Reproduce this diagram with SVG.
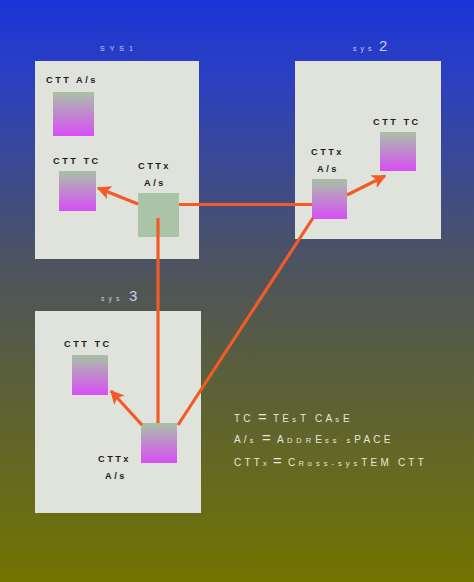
<svg xmlns="http://www.w3.org/2000/svg" width="474" height="582" viewBox="0 0 474 582">
<style>
.sys{fill:#dfe3dc;}
.lbl{font-family:"Liberation Sans",Arial,sans-serif;font-size:9.2px;font-weight:bold;fill:#1c1c1c;letter-spacing:2.5px;}
.ttl{font-family:"Liberation Sans",Arial,sans-serif;fill:#c8ccf0;}
.leg{font-family:"Liberation Sans",Arial,sans-serif;fill:#e6e8d8;letter-spacing:3px;}
.sm{font-size:7.5px;letter-spacing:4px;}
.bg{font-size:10px;letter-spacing:3.2px;}
.eq{font-size:15px;letter-spacing:0;}
.conn{stroke:#f25a28;stroke-width:3.2;fill:none;}
</style>
<defs>
<linearGradient id="bg" x1="0" y1="0" x2="0" y2="1">
<stop offset="0" stop-color="#1b34d6"/>
<stop offset="0.12" stop-color="#2a3fc4"/>
<stop offset="0.48" stop-color="#4f5558"/>
<stop offset="1" stop-color="#727400"/>
</linearGradient>
<linearGradient id="ctt" x1="0" y1="0" x2="0" y2="1">
<stop offset="0" stop-color="#a8c2a6"/>
<stop offset="1" stop-color="#d84ef6"/>
</linearGradient>
<marker id="ah" viewBox="0 0 10 10" refX="9" refY="5" markerWidth="4.4" markerHeight="4.4" orient="auto" markerUnits="strokeWidth">
<path d="M0,0 L10,5 L0,10 L2.5,5 z" fill="#f25a28"/>
</marker>
</defs>
<rect width="474" height="582" fill="url(#bg)"/>

<g id="sys1">
<rect class="sys" x="35" y="61" width="164" height="198"/>
<text class="ttl" x="100" y="51" font-size="7" letter-spacing="5">SYS1</text>
<text class="lbl" x="46" y="83">CTT A/s</text>
<rect x="53" y="92" width="41" height="44" fill="url(#ctt)"/>
<text class="lbl" x="53" y="164">CTT TC</text>
<rect x="59" y="171" width="37" height="40" fill="url(#ctt)"/>
<text class="lbl" x="138" y="169">CTTx</text>
<text class="lbl" x="144" y="186">A/s</text>
<rect x="138" y="193" width="41" height="44" fill="#a9c4a6"/>
</g>

<g id="sys2">
<rect class="sys" x="295" y="61" width="146" height="178"/>
<text class="ttl" x="353" y="51"><tspan font-size="7" letter-spacing="4">sys</tspan><tspan x="379" font-size="15">2</tspan></text>
<text class="lbl" x="373" y="125">CTT TC</text>
<rect x="380" y="132" width="36" height="39" fill="url(#ctt)"/>
<text class="lbl" x="311" y="155">CTTx</text>
<text class="lbl" x="317" y="172">A/s</text>
<rect x="312" y="179" width="35" height="40" fill="url(#ctt)"/>
</g>

<g id="sys3">
<rect class="sys" x="35" y="311" width="166" height="202"/>
<text class="ttl" x="101" y="301"><tspan font-size="7" letter-spacing="4">sys</tspan><tspan x="129" font-size="15">3</tspan></text>
<text class="lbl" x="64" y="347">CTT TC</text>
<rect x="72" y="355" width="36" height="40" fill="url(#ctt)"/>
<rect x="141" y="423" width="36" height="40" fill="url(#ctt)"/>
<text class="lbl" x="98" y="462">CTTx</text>
<text class="lbl" x="105" y="479">A/s</text>
</g>

<g id="connectors">
<line class="conn" x1="138" y1="204" x2="98" y2="188" marker-end="url(#ah)"/>
<line class="conn" x1="179" y1="204.5" x2="312" y2="204.5"/>
<line class="conn" x1="158" y1="218" x2="158" y2="423"/>
<line class="conn" x1="347" y1="195" x2="385" y2="176" marker-end="url(#ah)"/>
<line class="conn" x1="313" y1="218" x2="178" y2="425"/>
<line class="conn" x1="142" y1="425" x2="111" y2="391" marker-end="url(#ah)"/>
</g>

<g id="legend">
<text class="leg" x="234" y="422"><tspan class="bg">TC</tspan><tspan x="258" class="eq">=</tspan><tspan x="273" class="bg">TE</tspan><tspan class="sm">s</tspan><tspan class="bg">T CA</tspan><tspan class="sm">s</tspan><tspan class="bg">E</tspan></text>
<text class="leg" x="234" y="443"><tspan class="bg">A/</tspan><tspan class="sm">s</tspan><tspan x="262" class="eq">=</tspan><tspan x="277" class="bg">A</tspan><tspan class="sm">DDR</tspan><tspan class="bg">E</tspan><tspan class="sm">ss s</tspan><tspan class="bg">PACE</tspan></text>
<text class="leg" x="234" y="466"><tspan class="bg">CTT</tspan><tspan class="sm">x</tspan><tspan x="273" class="eq">=</tspan><tspan x="288" class="bg">C</tspan><tspan class="sm">Ross-sys</tspan><tspan class="bg">TEM CTT</tspan></text>
</g>
</svg>
